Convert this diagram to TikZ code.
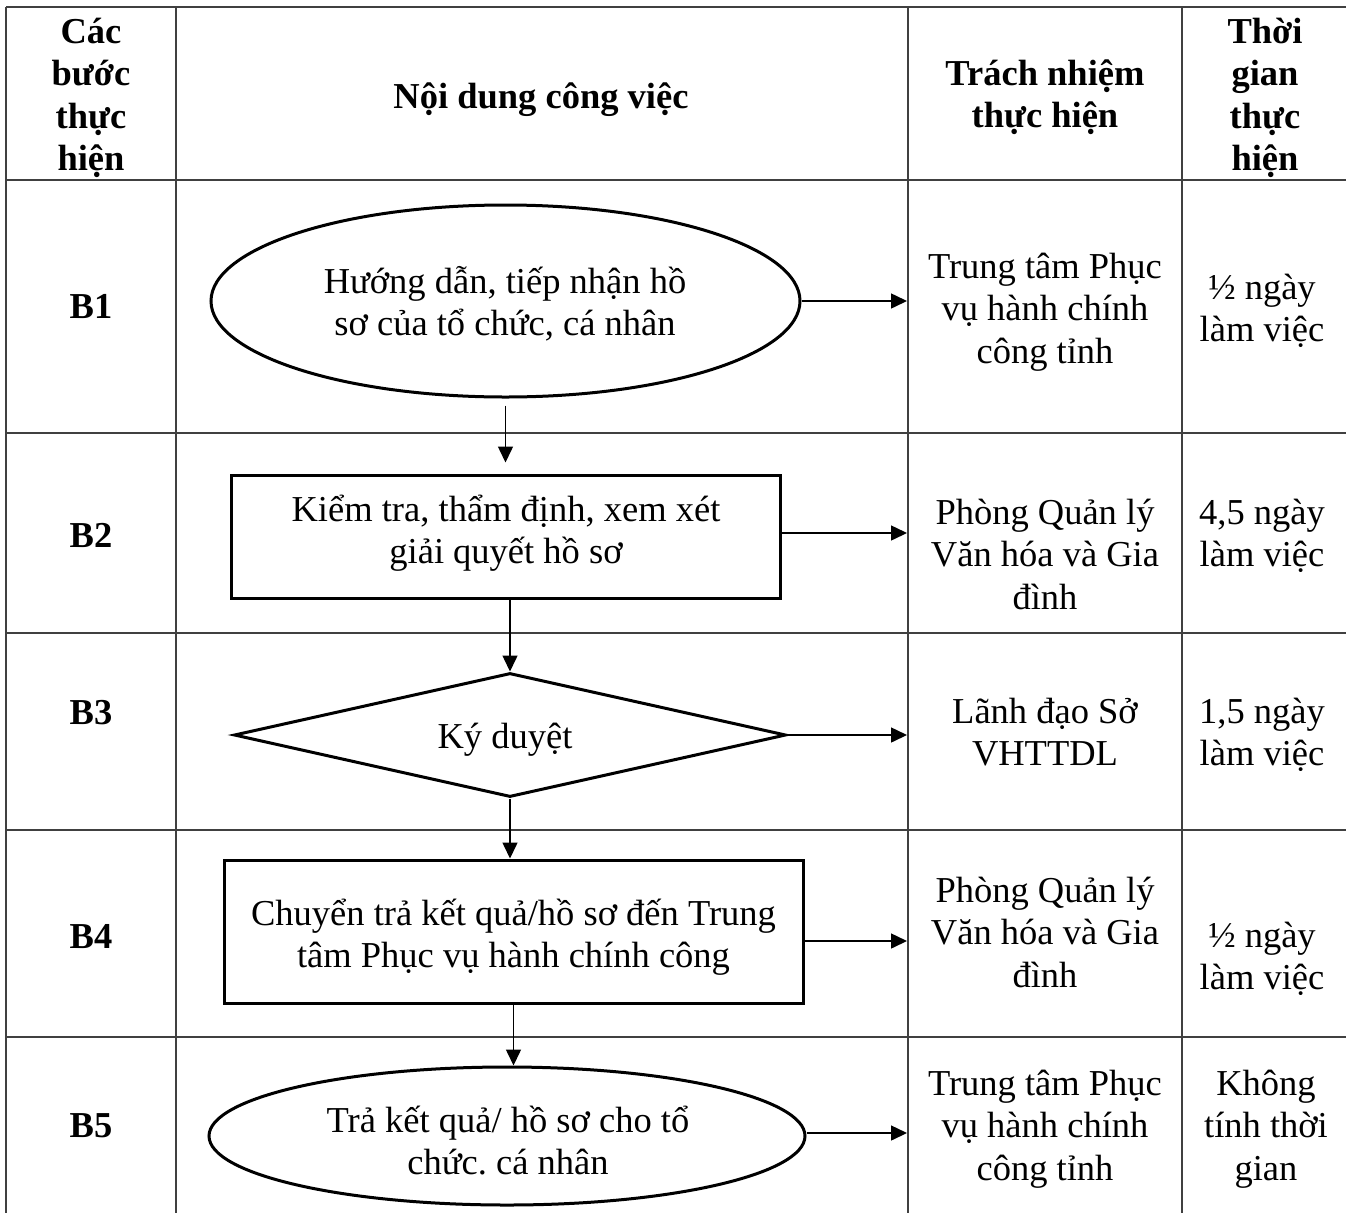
\documentclass[tikz,border=0pt]{standalone}
\usepackage{fontspec}
\setmainfont{Liberation Serif}
\frenchspacing
\usetikzlibrary{shapes.geometric,arrows.meta,calc}
\begin{document}
\begin{tikzpicture}[x=1pt,y=-1pt,
  grid/.style={line width=1.6pt, draw=black!75},
  shp/.style={draw=black, line width=3pt, inner sep=0pt},
  txt/.style={font=\fontsize{36.5}{42.5}\selectfont, align=center, anchor=base, inner sep=0pt},
  hdr/.style={font=\fontsize{36.5}{42.5}\selectfont\bfseries, align=center, anchor=base, inner sep=0pt},
  arr/.style={line width=1.5pt, -{Triangle[length=16pt,width=15pt]}},
]
\useasboundingbox (0,0) rectangle (1346,1213);
% table grid
\draw[grid] (6,7) -- (1346,7);
\draw[grid] (6,7) -- (6,1213);
\draw[grid] (176,7) -- (176,1213);
\draw[grid] (908,7) -- (908,1213);
\draw[grid] (1182,7) -- (1182,1213);
\foreach \yy in {180,433,633,830,1037} {\draw[grid] (6,\yy) -- (1346,\yy);}
\coordinate (c3) at (907,0);
% header (anchor = baseline of last line)
\node[hdr] (h1) at (91,170.5) {Các\\bước\\thực\\hiện};
\node[hdr] (h2) at (541,108) {Nội dung công việc};
\node[hdr] (h3) at (1045,127.5) {Trách nhiệm\\thực hiện};
\node[hdr] (h4) at (1265,170.5) {Thời\\gian\\thực\\hiện};
% step labels
\node[hdr] (b1) at (91,318) {B1};
\node[hdr] (b2) at (91,547) {B2};
\node[hdr] (b3) at (91,724) {B3};
\node[hdr] (b4) at (91,948) {B4};
\node[hdr] (b5) at (91,1137) {B5};
% shapes
\node[shp, ellipse, minimum width=589pt, minimum height=192pt] (e1) at (505.5,301) {};
\node[shp, rectangle, minimum width=549pt, minimum height=123pt] (r2) at (505.5,536.5) {};
\node[shp, diamond, minimum width=552pt, minimum height=124pt] (d3) at (510,735) {};
\node[shp, rectangle, minimum width=579pt, minimum height=143pt] (r4) at (513.5,931.5) {};
\node[shp, ellipse, minimum width=596pt, minimum height=138pt] (e5) at (507,1136) {};
% shape texts
\node[txt] (t1) at (505,335.5) {Hướng dẫn, tiếp nhận hồ\\sơ của tổ chức, cá nhân};
\node[txt] (t2) at (506,563.5) {Kiểm tra, thẩm định, xem xét\\giải quyết hồ sơ};
\node[txt] (t3) at (505,748) {Ký duyệt};
\node[txt] (t4) at (513.5,967.5) {Chuyển trả kết quả/hồ sơ đến Trung\\tâm Phục vụ hành chính công};
\node[txt] (t5) at (508,1174.5) {Trả kết quả/ hồ sơ cho tổ\\chức. cá nhân};
% responsibility
\node[txt] (p1) at (1045,363) {Trung tâm Phục\\vụ hành chính\\công tỉnh};
\node[txt] (p2) at (1045,609) {Phòng Quản lý\\Văn hóa và Gia\\đình};
\node[txt] (p3) at (1045,765.5) {Lãnh đạo Sở\\VHTTDL};
\node[txt] (p4) at (1045,987) {Phòng Quản lý\\Văn hóa và Gia\\đình};
\node[txt] (p5) at (1045,1180) {Trung tâm Phục\\vụ hành chính\\công tỉnh};
% time
\node[txt] (m1) at (1262,341.5) {½ ngày\\làm việc};
\node[txt] (m2) at (1262,566.5) {4,5 ngày\\làm việc};
\node[txt] (m3) at (1262,765.5) {1,5 ngày\\làm việc};
\node[txt] (m4) at (1262,989.5) {½ ngày\\làm việc};
\node[txt] (m5) at (1266,1180) {Không\\tính thời\\gian};
% vertical connectors
\draw[arr, shorten <=7pt, shorten >=11pt] (e1.south) -- (e1.south |- r2.north);
\draw[arr] (d3.north |- r2.south) -- (d3.north);
\draw[arr] (d3.south) -- (d3.south |- r4.north);
\draw[arr] (r4.south) -- (r4.south |- e5.north);
% horizontal connectors
\coordinate (a2) at ($(r2.east)+(0,-3.5)$);
\coordinate (a4) at ($(r4.east)+(0,9.5)$);
\coordinate (a5) at ($(e5.east)+(0,-3)$);
\draw[arr] (e1.east) -- (e1.east -| c3);
\draw[arr] (a2) -- (a2 -| c3);
\draw[arr] (d3.east) -- (d3.east -| c3);
\draw[arr] (a4) -- (a4 -| c3);
\draw[arr] (a5) -- (a5 -| c3);
\end{tikzpicture}
\end{document}
